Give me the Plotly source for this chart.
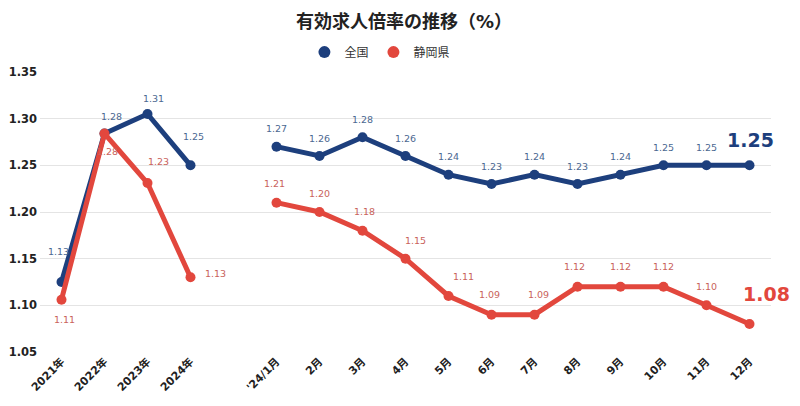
import plotly.graph_objects as go

categories = ["2021年", "2022年", "2023年", "2024年", " ",
              "'24/1月", "2月", "3月", "4月", "5月", "6月", "7月", "8月", "9月", "10月", "11月", "12月"]
national = [1.125, 1.284, 1.305, 1.25, None,
            1.27, 1.26, 1.28, 1.26, 1.24, 1.23, 1.24, 1.23, 1.24, 1.25, 1.25, 1.25]
shizuoka = [1.106, 1.284, 1.231, 1.13, None,
            1.21, 1.20, 1.18, 1.15, 1.11, 1.09, 1.09, 1.12, 1.12, 1.12, 1.10, 1.08]
national_labels = ["1.13", "1.28", "1.31", "1.25", None,
                   "1.27", "1.26", "1.28", "1.26", "1.24", "1.23", "1.24", "1.23", "1.24", "1.25", "1.25", "1.25"]
shizuoka_labels = ["1.11", "1.28", "1.23", "1.13", None,
                   "1.21", "1.20", "1.18", "1.15", "1.11", "1.09", "1.09", "1.12", "1.12", "1.12", "1.10", "1.08"]
y_ticks = [1.05, 1.10, 1.15, 1.20, 1.25, 1.30, 1.35]

NAVY = "#1d3f7d"
RED = "#e2473d"
NAVY_LBL = "#4b6891"
RED_LBL = "#c9625b"
FONT = "DejaVu Sans, Noto Sans CJK JP, sans-serif"

# label offsets (pixels) per point
nat_shift = [(-3, -31), (7, -17), (6, -16), (3, -29), None] + [(0, -18)] * 11 + [(1, -25)]
shz_shift = [(3, 20), (3, 18), (11, -22), (25, -4), None,
             (-2, -19), (0, -19), (2, -19), (10, -18), (15, -20), (-2, -20), (4, -20),
             (-3, -20), (0, -20), (0, -20), (0, -19), (17, -30)]

fig = go.Figure()
fig.add_trace(go.Scatter(
    x=categories, y=national, name="全国", mode="lines+markers",
    line=dict(color=NAVY, width=5), marker=dict(color=NAVY, size=10),
    connectgaps=False, hoverinfo="skip", showlegend=False))
fig.add_trace(go.Scatter(
    x=categories, y=shizuoka, name="静岡県", mode="lines+markers",
    line=dict(color=RED, width=5), marker=dict(color=RED, size=10),
    connectgaps=False, hoverinfo="skip", showlegend=False))
# legend entries (dots only)
fig.add_trace(go.Scatter(x=[None], y=[None], name="全国", mode="markers",
                         marker=dict(color=NAVY, size=8)))
fig.add_trace(go.Scatter(x=[None], y=[None], name="静岡県", mode="markers",
                         marker=dict(color=RED, size=8)))

annotations = []
for i, (c, v, t) in enumerate(zip(categories, national, national_labels)):
    if v is None:
        continue
    dx, dy = nat_shift[i]
    last = i == len(categories) - 1
    annotations.append(dict(
        x=c, y=v, text=f"<b>{t}</b>" if last else t, showarrow=False,
        xshift=dx, yshift=-dy,
        font=dict(family=FONT, size=19 if last else 9.5, color=NAVY if last else NAVY_LBL)))
for i, (c, v, t) in enumerate(zip(categories, shizuoka, shizuoka_labels)):
    if v is None:
        continue
    dx, dy = shz_shift[i]
    last = i == len(categories) - 1
    annotations.append(dict(
        x=c, y=v, text=f"<b>{t}</b>" if last else t, showarrow=False,
        xshift=dx, yshift=-dy,
        font=dict(family=FONT, size=19 if last else 9.5, color=RED if last else RED_LBL)))

# page body has an 8px margin; figure is sized/offset to compensate
fig.update_layout(
    width=792, height=398,
    margin=dict(l=32, r=29, t=64, b=54),
    paper_bgcolor="white", plot_bgcolor="white",
    font=dict(family=FONT, color="#222"),
    title=dict(text="<b>有効求人倍率の推移（%）</b>", x=0.5, xanchor="center",
               y=0.965, yanchor="middle", font=dict(size=18, color="#222")),
    legend=dict(orientation="h", x=0.465, xanchor="center", y=1.071, yanchor="middle",
                font=dict(size=12, color="#333"),
                traceorder="normal", itemsizing="constant"),
    showlegend=True,
    annotations=annotations,
)
fig.update_xaxes(type="category", categoryorder="array", categoryarray=categories,
                 range=[-0.5, len(categories) - 0.5], automargin=False,
                 tickangle=-45, tickfont=dict(size=11, color="#222", family="DejaVu Sans, Noto Sans CJK JP"),
                 showgrid=False, showline=False, ticks="", zeroline=False,
                 tickvals=categories, ticktext=[f"<b>{c}</b>" for c in categories])
fig.update_yaxes(range=[1.05, 1.35], tickvals=y_ticks, automargin=False,
                 ticktext=[f"<b>{v:.2f}</b>" for v in y_ticks],
                 tickfont=dict(size=11.5, color="#222"),
                 showgrid=True, gridcolor="#e4e4e4", gridwidth=1,
                 zeroline=False, showline=False, ticks="", ticklabelstandoff=2)

fig.write_html("out.html")
